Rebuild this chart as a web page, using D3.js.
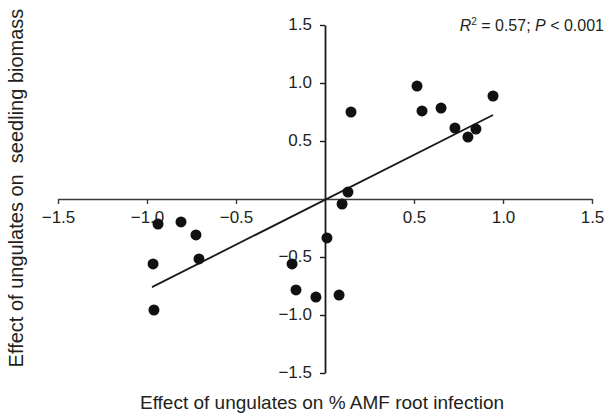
<!DOCTYPE html>
<html lang="en">
<head>
    <meta charset="UTF-8">
    <title>Ungulates vs AMF</title>
    <script src="https://d3js.org/d3.v7.min.js"></script>
    <style>
        body { margin: 0; background: #fff; }
        svg text { font-family: "Liberation Sans", Arial, Helvetica, sans-serif; fill: #231f20; }
    </style>
</head>
<body>
<div id="chart"></div>
<script>
    // Effect on % AMF root infection (x) vs effect on seedling biomass (y)
    const amfEffect = [0.517, 0.146, 0.545, 0.652, 0.944, 0.730, 0.848, 0.803, 0.129, 0.096, 0.011,
        -0.185, -0.163, -0.051, 0.079, -0.938, -0.809, -0.725, -0.966, -0.708, -0.961];
    const biomassEffect = [0.974, 0.750, 0.759, 0.784, 0.888, 0.612, 0.603, 0.534, 0.060, -0.043, -0.336,
        -0.560, -0.784, -0.845, -0.828, -0.216, -0.198, -0.310, -0.560, -0.517, -0.957];
    const xTicks = [-1.5, -1.0, -0.5, 0.5, 1.0, 1.5];
    const yTicks = [-1.5, -1.0, -0.5, 0.5, 1.0, 1.5];
    // fitted regression line
    const fitSlope = 0.774, fitIntercept = -0.007;
    const fitRange = [-0.972, 0.944];

    const width = 606, height = 414;
    const svg = d3.select("#chart").append("svg")
        .attr("width", width)
        .attr("height", height);

    const x = d3.scaleLinear().domain([-1.5, 1.5]).range([58, 592]);
    const y = d3.scaleLinear().domain([-1.5, 1.5]).range([373, 25]);
    const fmt = d => d3.format(".1f")(d).replace("-", "\u2212");

    // x axis through y = 0
    const xAxis = svg.append("g")
        .attr("transform", `translate(0,${y(0)})`)
        .call(d3.axisBottom(x).tickValues(xTicks).tickSize(5).tickSizeOuter(0).tickFormat(fmt));
    xAxis.select(".domain").attr("stroke", "#3a3a3a").attr("stroke-width", 1.6);
    xAxis.selectAll(".tick line").attr("stroke", "#3a3a3a").attr("stroke-width", 1.4);
    xAxis.selectAll(".tick text").attr("font-size", 17).attr("y", 24).attr("dy", 0);

    // y axis through x = 0
    const yAxis = svg.append("g")
        .attr("transform", `translate(${x(0)},0)`)
        .call(d3.axisLeft(y).tickValues(yTicks).tickSize(5).tickSizeOuter(0).tickFormat(fmt));
    yAxis.select(".domain").attr("stroke", "#1a1a1a").attr("stroke-width", 1.8);
    yAxis.selectAll(".tick line").attr("stroke", "#1a1a1a").attr("stroke-width", 1.4);
    yAxis.selectAll(".tick text").attr("font-size", 17).attr("x", -13).attr("dy", "0.25em");

    // regression line
    svg.append("line")
        .attr("x1", x(fitRange[0]))
        .attr("y1", y(fitSlope * fitRange[0] + fitIntercept))
        .attr("x2", x(fitRange[1]))
        .attr("y2", y(fitSlope * fitRange[1] + fitIntercept))
        .attr("stroke", "#1a1a1a")
        .attr("stroke-width", 1.8);

    // points
    svg.append("g")
        .selectAll("circle")
        .data(amfEffect)
        .enter().append("circle")
        .attr("cx", d => x(d))
        .attr("cy", (d, i) => y(biomassEffect[i]))
        .attr("r", 5.5)
        .attr("fill", "#111");

    // axis titles
    svg.append("text")
        .attr("x", 322)
        .attr("y", 409)
        .attr("text-anchor", "middle")
        .attr("font-size", 19)
        .text("Effect of ungulates on % AMF root infection");

    svg.append("text")
        .attr("transform", "translate(23,188) rotate(-90)")
        .attr("text-anchor", "middle")
        .attr("font-size", 20)
        .style("white-space", "pre")
        .text("Effect of ungulates on  seedling biomass");

    // statistics annotation
    const stat = svg.append("text")
        .attr("x", 604)
        .attr("y", 31)
        .attr("text-anchor", "end")
        .attr("font-size", 16);
    stat.append("tspan").attr("font-style", "italic").text("R");
    stat.append("tspan").attr("font-size", 10).attr("dy", -6).text("2");
    stat.append("tspan").attr("dy", 6).text(" = 0.57; ");
    stat.append("tspan").attr("font-style", "italic").text("P");
    stat.append("tspan").text(" < 0.001");
</script>
</body>
</html>
